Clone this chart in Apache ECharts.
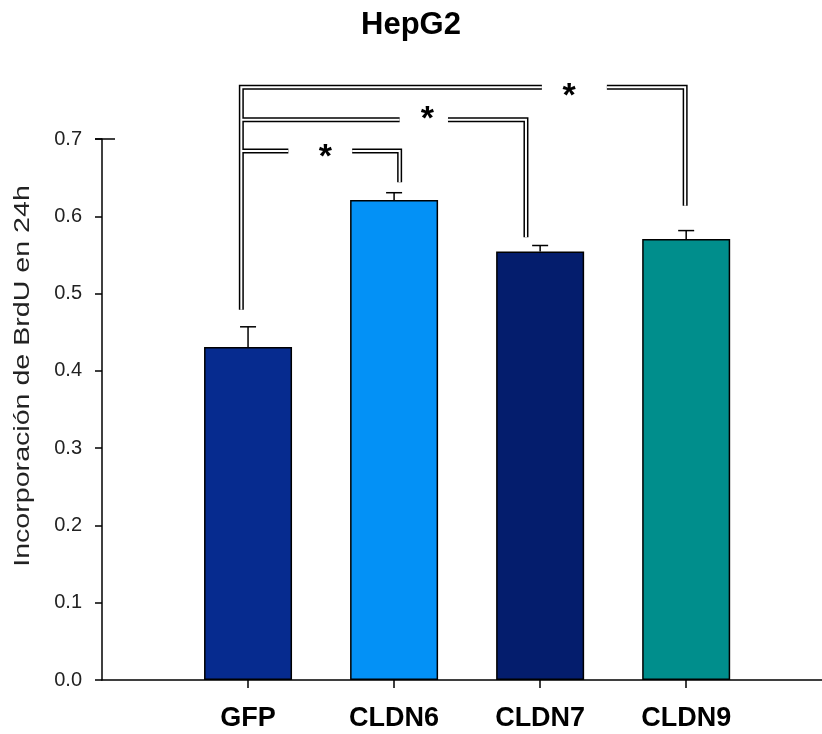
<!DOCTYPE html>
<html>
<head>
<meta charset="utf-8">
<script src="https://cdn.jsdelivr.net/npm/echarts@6/dist/echarts.min.js"></script>
<style>html,body{margin:0;padding:0;background:#fff}#c{width:822px;height:734px}</style>
</head>
<body>
<div id="c"></div>
<script>
// ---- data ----
const categories = ['GFP', 'CLDN6', 'CLDN7', 'CLDN9'];
const values = [0.431, 0.621, 0.5545, 0.5705];
const errors = [0.026, 0.0095, 0.0077, 0.011];
const barColors = ['#062b8f', '#0391f6', '#041d6d', '#008e8c'];
const yTicks = [0, 0.1, 0.2, 0.3, 0.4, 0.5, 0.6, 0.7];
const yTitle = 'Incorporación de BrdU en 24h';
const chartTitle = 'HepG2';

// significance brackets (GFP vs each), in axis units
const bracketLevel = [0.6845, 0.725, 0.767];
const bracketRightX = [1.038, 1.903, 2.993];
const bracketLegBottom = [0.644, 0.573, 0.6136];
const bracketGapFrom = [0.276, 1.038, 2.012];
const bracketGapTo = [0.713, 1.369, 2.457];
const starX = [0.529, 1.227, 2.199];
const starY = [0.676, 0.725, 0.755];
const starText = ['*', '*', '*'];
const leftLegX = -0.046;
const leftLegBottom = 0.479;

const chart = echarts.init(document.getElementById('c'), null, {renderer: 'canvas'});
const FONT = 'Liberation Sans, Arial, sans-serif';

function bracketRender(color, width, withStars) {
  return function (params, api) {
    const i = params.dataIndex;
    const lvl = bracketLevel[i];
    const top = bracketLevel.indexOf(Math.max.apply(null, bracketLevel));
    const p = (x, y) => api.coord([x, y]);
    const children = [];
    const style = {stroke: color, lineWidth: width, fill: null, lineJoin: 'miter', lineCap: 'butt'};
    let first = [p(leftLegX, lvl), p(bracketGapFrom[i], lvl)];
    if (i === top) first = [p(leftLegX, leftLegBottom)].concat(first);
    children.push({type: 'polyline', shape: {points: first}, style: style});
    children.push({type: 'polyline', shape: {points: [p(bracketGapTo[i], lvl), p(bracketRightX[i], lvl), p(bracketRightX[i], bracketLegBottom[i])]}, style: style});
    if (withStars) {
      const s = p(starX[i], starY[i]);
      children.push({type: 'text', x: s[0], y: s[1], style: {text: starText[i], fill: '#000', font: 'bold 34px ' + FONT, align: 'center', verticalAlign: 'middle'}});
    }
    return {type: 'group', children: children};
  };
}

chart.setOption({
  animation: false,
  backgroundColor: '#fff',
  title: {
    text: chartTitle, left: 'center', top: 5,
    textStyle: {fontFamily: FONT, fontSize: 31, fontWeight: 'bold', color: '#000'}
  },
  grid: {left: 102, right: 0, top: 139, bottom: 54, containLabel: false},
  xAxis: {
    type: 'value', min: -1, max: 3.93,
    axisLine: {show: true, onZero: false, lineStyle: {color: '#000', width: 1.5}},
    axisTick: {show: true, customValues: [0, 1, 2, 3], length: 8, lineStyle: {color: '#000', width: 1.5}},
    axisLabel: {
      customValues: [0, 1, 2, 3], margin: 25,
      formatter: v => categories[Math.round(v)] || '',
      fontFamily: FONT, fontSize: 27, fontWeight: 'bold', color: '#000'
    },
    splitLine: {show: false}
  },
  yAxis: {
    type: 'value', min: 0, max: 0.7, interval: 0.1,
    axisLine: {show: true, onZero: false, lineStyle: {color: '#000', width: 1.5}},
    axisTick: {show: true, inside: false, length: 7, customValues: yTicks, lineStyle: {color: '#000', width: 1.5}},
    axisLabel: {
      margin: 20, customValues: yTicks, formatter: v => v.toFixed(1),
      fontFamily: FONT, fontSize: 20, color: '#222'
    },
    splitLine: {show: false}
  },
  series: [
    {
      type: 'bar', barWidth: 88,
      data: values.map((v, i) => ({value: [i, v], itemStyle: {color: barColors[i]}})),
      itemStyle: {borderColor: '#000', borderWidth: 1.5},
      z: 2
    },
    {
      type: 'custom', z: 3, clip: false,
      data: values.map((v, i) => [i, v, errors[i]]),
      renderItem: function (params, api) {
        const x = api.value(0), v = api.value(1), e = api.value(2);
        const a = api.coord([x, v]), b = api.coord([x, v + e]);
        const st = {stroke: '#000', lineWidth: 1.5};
        return {type: 'group', children: [
          {type: 'line', shape: {x1: a[0], y1: a[1], x2: b[0], y2: b[1]}, style: st},
          {type: 'line', shape: {x1: b[0] - 8, y1: b[1], x2: b[0] + 8, y2: b[1]}, style: st}
        ]};
      }
    },
    {
      type: 'custom', z: 4, clip: false,
      data: bracketLevel.map((l, i) => [i]),
      renderItem: bracketRender('#000', 5, false)
    },
    {
      type: 'custom', z: 5, clip: false,
      data: bracketLevel.map((l, i) => [i]),
      renderItem: bracketRender('#fff', 2, true)
    }
  ]
});

// top cap of the y axis and the (stretched) y axis title
const capY = chart.convertToPixel({yAxisIndex: 0}, 0.7);
const axX = chart.convertToPixel({xAxisIndex: 0}, -1);
chart.setOption({graphic: [
  {type: 'line', shape: {x1: axX - 7, y1: capY, x2: axX + 13, y2: capY}, style: {stroke: '#000', lineWidth: 1.5}, z: 10},
  {type: 'text', x: 23, y: 376, rotation: Math.PI / 2, scaleX: 1.3, scaleY: 1,
   style: {text: yTitle, font: '22px ' + FONT, fill: '#222', align: 'center', verticalAlign: 'middle'}, z: 10}
]});
</script>
</body>
</html>
